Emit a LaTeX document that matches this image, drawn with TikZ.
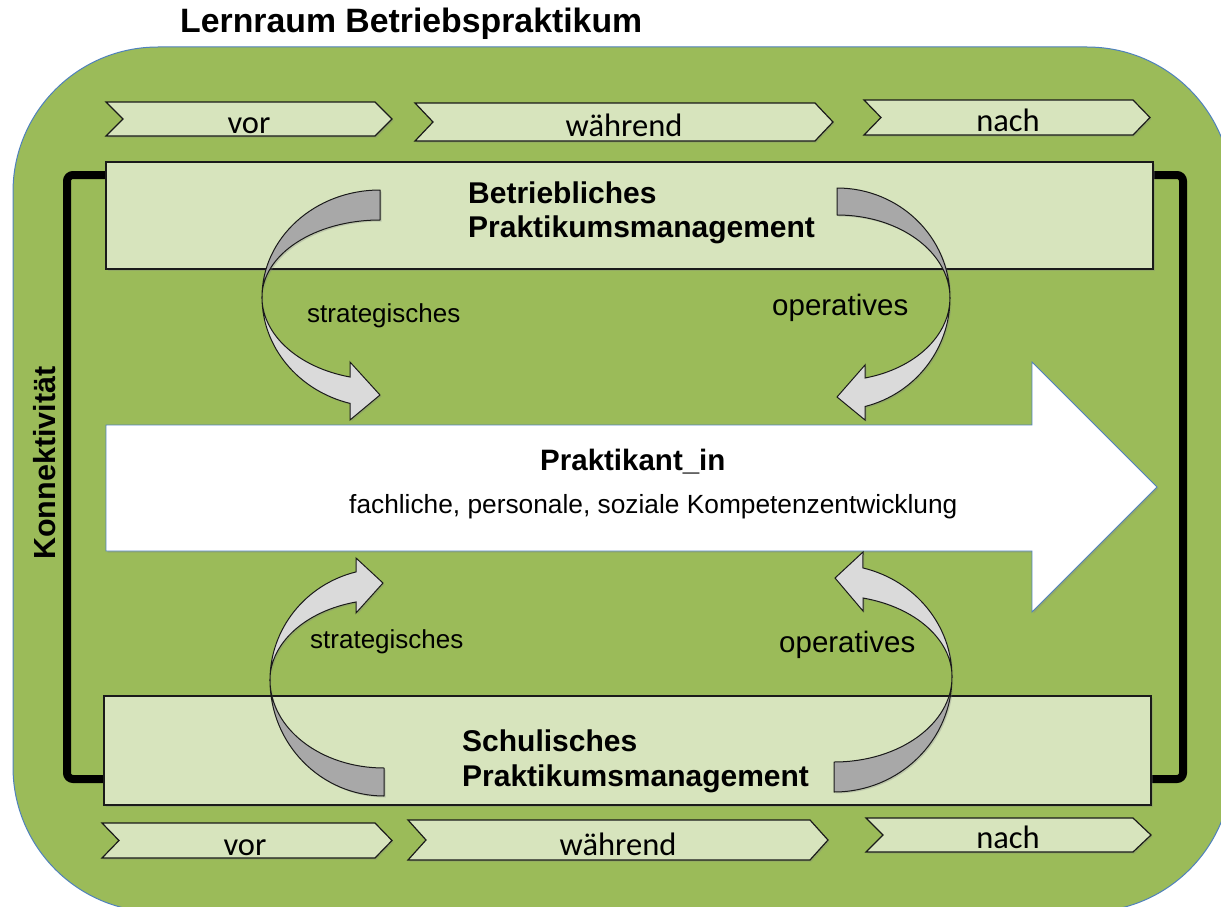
\documentclass[tikz,border=0pt]{standalone}
\usepackage{fontspec}
\setmainfont{Liberation Sans}
\newfontfamily\calfont{Carlito}
\usetikzlibrary{shadows}
\definecolor{bggreen}{HTML}{9BBB59}
\definecolor{lightgreen}{HTML}{D7E4BD}
\definecolor{arrdark}{HTML}{A8A8A8}
\definecolor{arrlight}{HTML}{DADADA}
\definecolor{edgeblue}{HTML}{4F81BD}
\definecolor{edgedark}{HTML}{1A1A1A}
\begin{document}
\begin{tikzpicture}[x=1pt,y=1pt,
  softshadow/.style={drop shadow={opacity=0.3,shadow xshift=1.5pt,shadow yshift=-1.5pt}},
  boxstyle/.style={fill=lightgreen,draw=edgedark,line width=1.2pt,inner sep=0pt,outer sep=0pt,anchor=north west,softshadow},
  chevstyle/.style={fill=lightgreen,draw=edgedark,line width=1.2pt,line join=miter,softshadow},
  chevtext/.style={anchor=base,inner sep=0pt,font=\calfont\fontsize{32.5}{36}\selectfont},
  titletext/.style={anchor=base west,inner sep=0pt,font=\bfseries\fontsize{30}{34}\selectfont},
  bracketline/.style={line width=8pt,rounded corners=6pt,draw=black},
  arrback/.style={fill=arrdark,draw=edgedark,line width=1pt,line join=round,softshadow},
  arrfront/.style={fill=arrlight,draw=edgedark,line width=1pt,line join=miter,softshadow},
  smalllabel/.style={anchor=base west,inner sep=0pt,font=\fontsize{26}{30}\selectfont},
  oplabel/.style={anchor=base west,inner sep=0pt,font=\fontsize{29.5}{34}\selectfont}]
\useasboundingbox (0,0) rectangle (1221,-907);
% background
\begin{scope}
\clip (0,0) rectangle (1221,-907);
\fill[white] (0,0) rectangle (1221,-907);
\path[fill=bggreen,draw=edgeblue,line width=1pt,rounded corners=145pt] (13,-47) rectangle (1232,-912);
\end{scope}
\node[anchor=base west,inner sep=0pt,font=\bfseries\fontsize{33.8}{38}\selectfont] (title) at (180,-33) {Lernraum Betriebspraktikum};
% brackets
\coordinate (bl1) at (108,-175);
\coordinate (bl2) at (106,-779);
\coordinate (br1) at (1150,-175);
\coordinate (br2) at (1148,-779);
\draw[bracketline] (bl1) -- (67,-175) -- (67,-779) -- (bl2);
\draw[bracketline] (br1) -- (1183,-175) -- (1183,-779) -- (br2);
\node[rotate=90,anchor=base west,inner sep=0pt,font=\bfseries\fontsize{30.5}{34}\selectfont] (konn) at (55,-560) {Konnektivität};
% boxes
\node[boxstyle,minimum width=1047pt,minimum height=107pt] (topbox) at (106,-162) {};
\node[boxstyle,minimum width=1047pt,minimum height=109pt] (botbox) at (104,-696) {};
% chevrons top
\path[chevstyle] (106,-102) -- (375,-102) -- (392,-119) -- (375,-136) -- (106,-136) -- (123,-119) -- cycle;
\path[chevstyle] (415,-103) -- (815,-103) -- (833,-122) -- (815,-141) -- (415,-141) -- (433,-122) -- cycle;
\path[chevstyle] (864,-100) -- (1133,-100) -- (1150,-117.5) -- (1133,-135) -- (864,-135) -- (881,-117.5) -- cycle;
\node[chevtext] (vorT) at (249,-133) {vor};
\node[chevtext] (waehrendT) at (624,-136) {während};
\node[chevtext] (nachT) at (1008,-131) {nach};
% chevrons bottom
\path[chevstyle] (102,-823) -- (375,-823) -- (392,-840.5) -- (375,-858) -- (102,-858) -- (119,-840.5) -- cycle;
\path[chevstyle] (408,-820) -- (810,-820) -- (828,-840) -- (810,-860) -- (408,-860) -- (426,-840) -- cycle;
\path[chevstyle] (866,-818) -- (1133,-818) -- (1151,-835) -- (1133,-852) -- (866,-852) -- (883,-835) -- cycle;
\node[chevtext] (vorB) at (245,-855) {vor};
\node[chevtext] (waehrendB) at (618,-855) {während};
\node[chevtext] (nachB) at (1008,-848) {nach};
% big white arrow
\path[fill=white,draw=edgeblue,line width=0.9pt,softshadow] (106,-425) -- (1032,-425) -- (1032,-362) -- (1157,-487) -- (1032,-612) -- (1032,-551) -- (106,-551) -- cycle;
\node[anchor=base west,inner sep=0pt,font=\bfseries\fontsize{29.5}{34}\selectfont] (prak) at (540,-470) {Praktikant\_in};
\node[anchor=base west,inner sep=0pt,font=\fontsize{26.3}{30}\selectfont] (komp) at (349,-513) {fachliche, personale, soziale Kompetenzentwicklung};
% box titles
\node[titletext] (tt1) at (468,-203) {Betriebliches};
\node[titletext] (tt2) at (468,-237) {Praktikumsmanagement};
\node[titletext] (bt1) at (462,-751) {Schulisches};
\node[titletext] (bt2) at (462,-786) {Praktikumsmanagement};
% curved arrows: top left
\path[arrback] (380,-190) arc[start angle=90,end angle=180,x radius=118,y radius=107]
  arc[start angle=180,end angle=90,x radius=118,y radius=77] -- cycle;
\path[arrfront] (262,-297) arc[start angle=180,end angle=255.3,x radius=118,y radius=110]
  -- (350,-420) -- (380,-395) -- (350,-362) -- (350,-377)
  arc[start angle=255.3,end angle=180,x radius=118,y radius=82.7] -- cycle;
% top right
\path[arrback] (837,-188) arc[start angle=90,end angle=0,x radius=113,y radius=110]
  arc[start angle=0,end angle=90,x radius=113,y radius=83] -- cycle;
\path[arrfront] (950,-298) arc[start angle=0,end angle=-75.6,x radius=113,y radius=112]
  -- (865,-420) -- (837,-397) -- (865,-365) -- (865,-378)
  arc[start angle=-75.6,end angle=0,x radius=113,y radius=82.6] -- cycle;
% bottom left
\path[arrback] (384,-796) arc[start angle=270,end angle=180,x radius=114,y radius=116]
  arc[start angle=180,end angle=270,x radius=114,y radius=88] -- cycle;
\path[arrfront] (270,-680) arc[start angle=180,end angle=104.2,x radius=114,y radius=111.5]
  -- (356,-558) -- (383,-583) -- (356,-613) -- (356,-602)
  arc[start angle=104.2,end angle=180,x radius=114,y radius=80.5] -- cycle;
% bottom right
\path[arrback] (834,-792) arc[start angle=270,end angle=360,x radius=118,y radius=115]
  arc[start angle=0,end angle=-90,x radius=118,y radius=85] -- cycle;
\path[arrfront] (952,-677) arc[start angle=0,end angle=75.8,x radius=118,y radius=112.5]
  -- (863,-552) -- (835,-578) -- (863,-611) -- (863,-598)
  arc[start angle=75.8,end angle=0,x radius=118,y radius=81.5] -- cycle;
% arrow labels
\node[smalllabel] (strT) at (307,-322) {strategisches};
\node[oplabel] (opT) at (772,-315) {operatives};
\node[smalllabel] (strB) at (310,-648) {strategisches};
\node[oplabel] (opB) at (779,-652) {operatives};
\end{tikzpicture}
\end{document}
